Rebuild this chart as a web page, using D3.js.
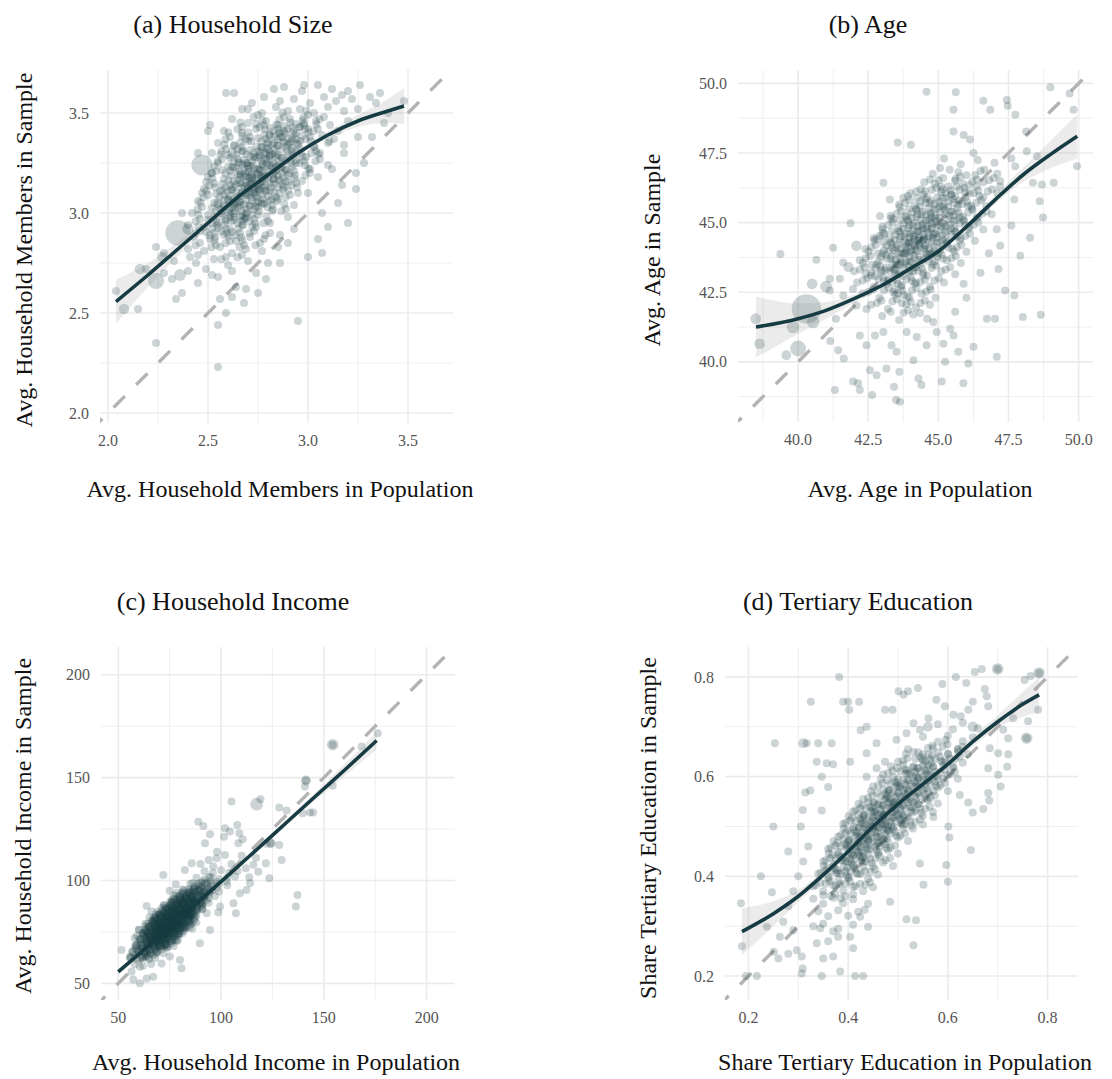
<!DOCTYPE html>
<html>
<head>
<meta charset="utf-8">
<script src="https://cdn.jsdelivr.net/npm/d3@7"></script>
<style>
  body { margin: 0; background: #fff; }
  svg { display: block; font-family: "Liberation Serif", "DejaVu Serif", serif; }
</style>
</head>
<body>
<svg id="chart" width="1112" height="1079"></svg>
<script>
// ---- (a) household size ----
const sizeTicks = [2.0, 2.5, 3.0, 3.5];
const sizeMinor = [2.25, 2.75, 3.25];
const sizeCloud = [
  [2.55,2.44],[2.55,2.23],[2.24,2.35],[2.95,2.46],[2.15,2.52],[2.04,2.61],[2.59,2.50],[2.56,2.57],[2.64,2.63],[2.69,2.62],
  [2.75,2.60],[2.79,2.67],[3.0,2.78],[3.07,2.8],[3.05,2.87],[3.1,2.93],[3.07,3.0],[3.24,3.12],[3.17,3.14],[3.24,3.2],
  [3.28,3.25],[3.32,3.38],[3.26,3.64],[3.2,3.61],[3.48,3.56],[3.31,3.58],[3.34,3.55],[2.98,3.64],[2.83,3.62],[2.59,3.6],
  [2.63,3.6],[2.51,3.44],[2.5,3.41],[2.37,3.0],[2.24,2.83],[2.28,2.8],[2.19,2.72],[2.34,2.57],[2.37,2.6],[2.32,2.67],
  [2.45,2.65],[2.49,2.72],[2.41,2.78],[2.45,3.3],[2.52,3.2],[2.47,3.1],[3.38,3.45],[3.4,3.5],[3.15,3.05],[3.0,3.1],
  [2.9,2.85],[2.93,2.92],[2.68,2.55],[2.62,2.58],[2.55,2.68],[2.86,2.75],[2.72,3.55],[2.67,3.52],[3.36,3.6],[3.2,2.95],
  [3.12,3.22],[3.18,3.3],[3.25,3.38],
  [2.88,3.63],[2.97,3.61],[3.05,3.64],[3.12,3.62],[3.17,3.59],
  [2.78,3.58],[2.86,3.56],[2.93,3.57],[3.01,3.55],[3.08,3.58],[3.14,3.56],[3.22,3.57],
  [2.7,3.52],[2.77,3.5],[2.84,3.53],[2.9,3.51],[2.96,3.52],[3.03,3.5],[3.1,3.53],[3.18,3.51],[3.25,3.52],
  [2.62,3.47],[2.7,3.45],[2.79,3.46],[2.85,3.44],[2.91,3.47],[2.98,3.45],[3.04,3.46],[3.11,3.44],[3.2,3.46],
  [2.58,3.41],[2.67,3.4],[2.74,3.42],[2.81,3.39],[2.88,3.41],[2.94,3.4],[3.0,3.42],[3.07,3.39],[3.15,3.41],
  [2.55,3.35],[2.63,3.34],[2.7,3.36],[2.77,3.33],[2.83,3.35],[2.9,3.34],[2.96,3.36],[3.03,3.33],[3.1,3.35],[3.18,3.34],
  [2.52,3.3],[2.6,3.29],[2.67,3.31],[2.73,3.28],[2.79,3.3],[2.85,3.29],[2.92,3.31],[2.99,3.28],[3.06,3.3],
  [2.55,3.25],[2.62,3.23],[2.69,3.25],[2.75,3.22],[2.81,3.24],[2.87,3.23],[2.94,3.25],[3.01,3.22],[3.1,3.24],
  [2.5,3.18],[2.58,3.17],[2.65,3.19],[2.71,3.16],[2.77,3.18],[2.83,3.17],[2.9,3.19],[2.97,3.16],[3.05,3.18],
  [2.48,3.12],[2.56,3.11],[2.63,3.13],[2.69,3.1],[2.75,3.12],[2.81,3.11],[2.88,3.13],[2.95,3.1],
  [2.45,3.06],[2.53,3.05],[2.6,3.07],[2.66,3.04],[2.72,3.06],[2.78,3.05],[2.85,3.07],[2.93,3.04],
  [2.42,3.0],[2.5,2.99],[2.57,3.01],[2.63,2.98],[2.69,3.0],[2.75,2.99],[2.82,3.01],[2.9,2.98],
  [2.4,2.94],[2.48,2.93],[2.55,2.95],[2.61,2.92],[2.67,2.94],[2.74,2.93],[2.81,2.95],
  [2.43,2.88],[2.51,2.87],[2.58,2.89],[2.64,2.86],[2.71,2.88],[2.78,2.87],[2.86,2.89],
  [2.4,2.82],[2.48,2.81],[2.56,2.83],[2.62,2.8],[2.69,2.82],[2.77,2.81],[2.85,2.83],
  [2.33,2.76],[2.44,2.75],[2.53,2.77],[2.6,2.74],[2.7,2.76],[2.8,2.75],
  [2.28,2.7],[2.4,2.71],[2.52,2.69],[2.62,2.71],[2.74,2.7],
  [2.66,3.15],[2.72,3.2],[2.78,3.27],[2.84,3.21],[2.7,3.09],[2.76,3.15],[2.62,3.03],[2.8,3.32],[2.86,3.38],[2.68,2.97],
  [2.74,3.03],[2.59,2.96],[2.92,3.37],[2.96,3.43]
];
// [x, y, number of regions clustered around that spot]
const sizeDense = [
  [2.74,3.49,2],[2.87,3.48,3],[2.99,3.49,3],[3.07,3.48,2],
  [2.66,3.43,3],[2.77,3.44,5],[2.84,3.42,5],[2.91,3.43,5],[2.97,3.44,5],[3.04,3.42,3],
  [2.6,3.38,3],[2.7,3.38,5],[2.78,3.37,6],[2.86,3.38,6],[2.93,3.37,5],[3.0,3.38,5],[3.12,3.37,2],
  [2.58,3.32,3],[2.66,3.33,5],[2.74,3.31,6],[2.82,3.32,8],[2.88,3.33,6],[2.95,3.32,5],[3.03,3.31,3],
  [2.56,3.27,3],[2.64,3.27,5],[2.71,3.26,8],[2.78,3.27,8],[2.84,3.26,8],[2.9,3.27,6],[2.97,3.26,5],[3.05,3.27,3],
  [2.53,3.21,3],[2.6,3.21,6],[2.67,3.22,8],[2.73,3.2,10],[2.79,3.21,10],[2.86,3.2,8],[2.92,3.21,5],[3.0,3.2,3],
  [2.52,3.15,5],[2.6,3.14,6],[2.68,3.16,10],[2.74,3.14,10],[2.8,3.15,8],[2.86,3.14,6],[2.93,3.15,5],
  [2.49,3.09,3],[2.57,3.09,6],[2.64,3.08,8],[2.7,3.1,10],[2.76,3.09,8],[2.83,3.08,6],[2.9,3.09,3],
  [2.46,3.03,3],[2.55,3.02,6],[2.62,3.03,8],[2.68,3.02,8],[2.74,3.03,6],[2.81,3.04,5],[2.88,3.02,3],
  [2.45,2.97,3],[2.53,2.96,5],[2.6,2.98,6],[2.66,2.96,6],[2.72,2.97,5],[2.79,2.96,3],
  [2.45,2.91,3],[2.52,2.9,5],[2.58,2.92,5],[2.65,2.9,5],[2.72,2.91,3],[2.8,2.9,2],
  [2.45,2.85,2],[2.53,2.84,3],[2.6,2.86,3],[2.67,2.84,3],[2.75,2.85,2],
  [2.45,2.79,1],[2.58,2.78,2],[2.66,2.79,2]
];
// [x, y, population weight] for the bigger regions
const sizeBig = [[2.47,3.24,7],[2.35,2.9,10],[2.24,2.66,4],[2.08,2.52,1.7],[2.16,2.72,1.8],[2.27,2.78,1.6],[2.4,2.92,2],[2.55,3.05,1.6],[2.62,3.3,1.5],[2.36,2.69,2.2]];
const sizeSmoothX = [2.04, 2.2, 2.35, 2.5, 2.65, 2.8, 2.95, 3.1, 3.25, 3.4, 3.48];
const sizeSmoothY = [2.557, 2.69, 2.82, 2.95, 3.08, 3.19, 3.30, 3.39, 3.46, 3.51, 3.535];
const sizeSe = [0.11, 0.06, 0.035, 0.02, 0.015, 0.015, 0.015, 0.018, 0.03, 0.06, 0.09];

// ---- (b) age ----
const ageTicks = [40, 42.5, 45, 47.5, 50];
const ageMinor = [38.75, 41.25, 43.75, 46.25, 48.75];
const ageCloud = [
  [44.58,49.7],[45.62,49.68],[48.99,49.86],[49.68,49.64],[49.82,49.05],[49.94,47.02],[47.44,49.4],[47.47,49.2],[46.6,49.38],[46.85,49.05],
  [47.74,48.87],[45.54,49.05],[45.54,48.27],[45.9,48.15],[43.55,47.88],[44.02,47.8],[43.04,46.43],[41.87,44.98],[40.65,43.67],[39.37,43.87],
  [41.25,44.1],[41.13,42.56],[41.13,42.98],[41.35,41.55],[41.15,40.75],[41.43,40.42],[41.63,40.12],[41.31,38.99],[41.96,39.29],[42.14,39.23],
  [42.2,38.99],[42.64,38.81],[42.56,39.7],[42.8,39.52],[43.15,39.76],[43.42,39.11],[43.49,38.63],[43.63,38.57],[43.61,39.64],[44.11,40.06],
  [44.29,39.4],[44.4,39.17],[45.12,39.29],[45.24,40.0],[45.89,39.23],[46.07,39.94],[47.08,40.18],[45.71,40.36],[46.25,40.54],[46.73,41.55],
  [47.02,41.55],[48.01,41.61],[48.65,41.69],[47.71,42.38],[47.38,42.56],[47.14,43.33],[47.92,43.81],[48.27,44.46],[48.73,45.18],[48.61,45.77],
  [48.69,46.37],[49.11,46.43],[48.37,46.43],[48.51,47.38],[48.15,47.56],[48.13,48.27],[47.74,47.02],[47.2,46.49],[47.71,45.83],[47.08,44.76],
  [47.2,44.17],[46.64,46.9],[46.25,47.5],[46.13,47.98],[45.06,46.96],[44.7,46.55],[44.52,46.13],[43.75,45.89],[43.39,45.12],[43.81,45.24],
  [42.8,44.4],[42.92,45.24],[43.27,45.83],[42.62,43.21],[41.61,43.57],[41.49,42.98],[41.61,42.38],[41.96,42.62],[42.08,42.02],[42.44,41.9],
  [42.2,40.95],[42.44,40.6],[42.74,40.95],[43.04,41.07],[43.33,40.6],[43.51,40.36],[43.87,41.07],[44.23,40.89],[44.58,40.6],[44.94,41.07],
  [45.18,40.65],[45.42,41.19],[45.54,40.95],[44.82,41.43],[45.6,41.8],[46.0,42.3],[45.9,42.8],[46.5,43.2],[46.8,43.9],[47.6,44.9],
  [45.2,47.3],[45.8,47.1],[46.4,47.25],[47.0,47.15],[47.6,47.3],
  [44.8,46.75],[45.4,46.9],[46.0,46.7],[46.5,46.85],[47.1,46.75],
  [44.5,46.45],[45.1,46.3],[45.6,46.5],[46.1,46.35],[46.6,46.45],[47.2,46.3],
  [44.0,46.05],[44.6,45.9],[45.1,46.1],[45.6,45.95],[46.1,46.05],[46.6,45.9],[47.1,46.05],
  [43.6,45.65],[44.2,45.5],[44.7,45.7],[45.2,45.55],[45.7,45.65],[46.2,45.5],[46.7,45.6],
  [43.3,45.25],[43.9,45.1],[44.4,45.3],[44.9,45.15],[45.4,45.25],[45.9,45.1],[46.4,45.2],[46.9,45.3],
  [43.0,44.85],[43.6,44.7],[44.1,44.9],[44.6,44.75],[45.1,44.85],[45.6,44.7],[46.1,44.85],[46.6,44.75],
  [42.7,44.45],[43.3,44.3],[43.8,44.5],[44.3,44.35],[44.8,44.45],[45.3,44.3],[45.8,44.45],[46.3,44.35],
  [42.4,44.05],[43.0,43.9],[43.5,44.1],[44.0,43.95],[44.5,44.05],[45.0,43.9],[45.5,44.05],[46.0,43.95],
  [42.2,43.65],[42.8,43.5],[43.3,43.7],[43.8,43.55],[44.3,43.65],[44.8,43.5],[45.3,43.65],[45.8,43.55],
  [42.0,43.25],[42.6,43.1],[43.1,43.3],[43.6,43.15],[44.1,43.25],[44.6,43.1],[45.1,43.25],[45.6,43.15],
  [42.1,42.85],[42.7,42.7],[43.2,42.9],[43.7,42.75],[44.2,42.85],[44.7,42.7],[45.2,42.85],
  [42.3,42.45],[42.9,42.3],[43.4,42.5],[43.9,42.35],[44.4,42.45],[44.9,42.3],
  [42.6,42.05],[43.2,41.9],[43.7,42.1],[44.2,41.95],[44.7,42.05],
  [43.0,41.65],[43.6,41.5],[44.1,41.7],[44.6,41.55],
  [44.3,44.2],[44.0,44.6],[44.6,43.85],[43.8,43.9],[44.9,44.6],[44.2,43.4],[43.5,43.3],[45.2,44.95],[44.5,44.45],[43.9,44.25],
  [44.7,45.0],[45.5,45.4]
];
const ageDense = [
  [45.1,46.6,2],[45.7,46.65,3],[46.3,46.55,3],[46.9,46.6,2],
  [44.3,46.2,2],[44.85,46.25,3],[45.35,46.15,5],[45.85,46.25,5],[46.35,46.15,3],[46.85,46.2,2],
  [43.9,45.8,3],[44.45,45.85,5],[44.95,45.75,6],[45.45,45.85,5],[45.95,45.75,5],[46.45,45.8,3],
  [43.6,45.4,3],[44.15,45.45,6],[44.65,45.35,6],[45.15,45.45,6],[45.65,45.35,5],[46.15,45.45,3],[46.65,45.4,2],
  [43.3,45.0,3],[43.85,45.05,6],[44.35,44.95,8],[44.85,45.05,8],[45.35,44.95,6],[45.85,45.05,5],[46.35,45.0,3],
  [43.0,44.6,3],[43.55,44.65,6],[44.05,44.55,9],[44.55,44.65,9],[45.05,44.55,6],[45.55,44.65,5],[46.05,44.6,3],
  [42.7,44.2,3],[43.25,44.25,6],[43.75,44.15,8],[44.25,44.25,9],[44.75,44.15,8],[45.25,44.25,5],[45.75,44.2,3],
  [42.5,43.8,3],[43.05,43.85,6],[43.55,43.75,8],[44.05,43.85,8],[44.55,43.75,6],[45.05,43.85,5],[45.55,43.8,3],
  [42.3,43.4,3],[42.85,43.45,5],[43.35,43.35,6],[43.85,43.45,6],[44.35,43.35,5],[44.85,43.45,3],[45.35,43.4,2],
  [42.4,43.0,3],[42.95,43.05,5],[43.45,42.95,5],[43.95,43.05,5],[44.45,42.95,3],[44.95,43.0,2],
  [42.6,42.6,2],[43.15,42.65,3],[43.65,42.55,5],[44.15,42.65,3],[44.65,42.6,2],
  [42.9,42.2,2],[43.45,42.25,3],[43.95,42.15,3],[44.45,42.2,2],
  [43.3,41.8,1],[43.85,41.85,2],[44.35,41.75,1]
];
const ageBig = [[40.3,41.9,13.6],[40.0,40.48,3.9],[39.82,41.25,2.5],[38.49,41.55,1.8],[38.63,40.65,1.8],[40.5,42.8,1.8],[40.54,41.43,2.5],[39.58,40.24,1.5],[42.08,44.17,1.7],[43.04,44.58,1.7],[41.0,42.7,2.2],[41.8,43.4,1.6]];
const ageSmoothX = [38.5, 40, 41, 42, 43, 44, 45, 46, 47, 48, 49, 49.95];
const ageSmoothY = [41.25, 41.55, 41.85, 42.27, 42.75, 43.35, 43.97, 44.85, 45.8, 46.7, 47.45, 48.1];
const ageSe = [1.1, 0.55, 0.3, 0.15, 0.1, 0.1, 0.1, 0.1, 0.15, 0.25, 0.5, 0.8];

// ---- (c) household income ----
const incomeTicks = [50, 100, 150, 200];
const incomeMinor = [75, 125, 175];
const incomeCloud = [
  [176.2,171.6],[154.3,166.0],[168.4,165.1],[154.3,146.0],[141.3,148.6],[140.8,145.7],[143.2,133.0],[144.8,133.0],[139.7,132.7],[131.9,134.0],
  [128.3,135.5],[119.2,139.5],[105.1,138.4],[88.9,128.6],[91.4,126.5],[94.6,122.5],[92.2,118.1],[101.9,125.4],[107.9,127.0],[101.4,121.3],
  [104.3,123.8],[108.9,123.0],[108.4,118.1],[110.5,120.0],[122.2,117.8],[124.2,118.1],[128.3,117.3],[129.5,110.0],[121.8,108.4],[115.7,107.6],
  [118.1,104.3],[123.5,101.1],[113.7,101.6],[137.2,93.0],[136.4,87.3],[107.2,84.1],[98.6,84.4],[93.0,84.1],[101.9,112.4],[97.8,110.8],
  [96.2,106.8],[85.7,108.4],[82.4,105.1],[71.9,102.7],[85.7,79.2],[80.8,57.3],[80.0,61.4],[63.8,87.6],[66.2,84.9],[51.6,66.2],
  [55.7,63.0],[57.3,51.9],[60.5,50.0],[63.8,52.4],[67.0,53.2],[56.5,55.7],[60.5,58.1],[71.1,59.7],[75.1,63.0],[89.7,69.5],
  [94.6,75.9],[99.5,87.3],[106.0,88.9],[109.2,93.8],[114.1,98.6],[112.4,95.4],[106.8,101.9],[102.7,99.5],[105,108],[110,112],
  [98,114],[94,110],[112,106],[117,111],[90,108],[78,98],[75,95],[68,82],[60,76],[58,72],
  [92,104.5],[96,103.5],[100,105],[104,103.8],[108,104.6],
  [88,101.3],[92,100.5],[95,101.6],[99,100.7],[103,101.4],
  [85,98.4],[89,97.6],[92,98.6],[95,97.5],[99,98.3],[103,97.7],
  [82,95.3],[86,94.6],[89,95.5],[92,94.7],[95,95.4],[99,94.6],
  [79,92.4],[82,91.6],[85,92.5],[88,91.7],[91,92.3],[94,91.5],[97,92.4],
  [76,89.3],[79,88.6],[82,89.5],[85,88.7],[88,89.4],[91,88.5],[94,89.2],
  [73,86.4],[76,85.6],[79,86.5],[82,85.7],[85,86.3],[88,85.5],[91,86.2],
  [70,83.3],[73,82.6],[76,83.4],[79,82.7],[82,83.5],[85,82.6],[88,83.2],
  [67,80.4],[70,79.6],[73,80.5],[76,79.7],[79,80.3],[82,79.5],[85,80.4],[88,79.6],
  [65,77.3],[68,76.6],[71,77.4],[74,76.7],[77,77.5],[80,76.6],[83,77.3],[86,76.5],
  [63,74.4],[66,73.6],[69,74.5],[72,73.7],[75,74.3],[78,73.5],[81,74.2],
  [61,71.3],[64,70.6],[67,71.4],[70,70.7],[73,71.5],[76,70.6],[79,71.2],
  [59,68.4],[62,67.6],[65,68.5],[68,67.7],[71,68.3],[74,67.5],[77,68.2],
  [57,65.3],[60,64.6],[63,65.4],[66,64.7],[69,65.5],[72,64.6],
  [56,62.4],[59,61.6],[62,62.5],[65,61.7],[68,62.3],
  [58,59.3],[62,58.6],[66,59.4],
  [72,75],[75,78],[78,81],[81,84],[74,72.5],[77,76],[80,79],[70,72],[83,86],[76,81],
  [79,76],[73,69],[86,88],[68,70],[71,73.5],[84,83],[87,90],[90,93]
];
const incomeDense = [
  [90,99.5,2],[94,99.6,3],[97,99.4,2],
  [86,96.5,3],[90,96.6,5],[93,96.4,5],[97,96.5,2],
  [81,93.5,3],[84,93.6,7],[87,93.4,7],[90,93.6,5],[93,93.4,3],
  [77,90.5,3],[80,90.6,8],[83,90.4,11],[86,90.6,11],[89,90.4,7],[92,90.5,3],
  [75,87.5,5],[78,87.6,11],[81,87.4,13],[84,87.6,13],[87,87.4,9],[90,87.5,3],
  [71,84.5,4],[74,84.6,11],[77,84.4,15],[80,84.6,15],[83,84.4,11],[86,84.5,5],
  [68,81.5,5],[71,81.6,11],[74,81.4,15],[77,81.6,15],[80,81.4,15],[83,81.6,9],[86,81.5,3],
  [66,78.5,5],[69,78.6,11],[72,78.4,15],[75,78.6,15],[78,78.4,13],[81,78.6,9],[84,78.5,3],
  [63,75.5,5],[66,75.6,11],[69,75.4,15],[72,75.6,15],[75,75.4,13],[78,75.6,7],[81,75.5,3],
  [62,72.5,5],[65,72.6,9],[68,72.4,13],[71,72.6,13],[74,72.4,9],[77,72.6,5],
  [60,69.5,3],[63,69.6,7],[66,69.4,9],[69,69.6,9],[72,69.4,5],[75,69.5,2],
  [58,66.5,3],[61,66.6,5],[64,66.4,7],[67,66.6,5],[70,66.4,3],
  [57,63.5,2],[60,63.6,3],[63,63.4,3],[66,63.6,2]
];
const incomeBig = [[117.3,137.1,2.5],[154.3,166.0,2.1],[141.3,148.6,1.6],[124.2,118.1,1.5]];
const incomeSmoothX = [50, 60, 70, 80, 90, 100, 110, 120, 130, 140, 150, 160, 175.7];
const incomeSmoothY = [55.6, 64.2, 73.0, 81.8, 90.5, 99.4, 108.4, 117.4, 126.5, 135.6, 144.6, 153.6, 168.0];
const incomeSe = [1.5, 1.0, 0.7, 0.6, 0.6, 0.7, 0.8, 1.0, 1.2, 1.6, 2.2, 2.9, 4.2];

// ---- (d) tertiary education ----
const eduTicks = [0.2, 0.4, 0.6, 0.8];
const eduMinor = [0.3, 0.5, 0.7];
const eduCloud = [
  [0.382,0.8],[0.325,0.75],[0.39,0.75],[0.40,0.75],[0.422,0.75],[0.402,0.734],[0.253,0.667],[0.317,0.667],[0.34,0.667],[0.367,0.667],
  [0.437,0.70],[0.425,0.693],[0.337,0.63],[0.357,0.627],[0.37,0.625],[0.404,0.63],[0.347,0.6],[0.314,0.568],[0.324,0.572],[0.36,0.579],
  [0.309,0.533],[0.347,0.532],[0.25,0.5],[0.305,0.5],[0.28,0.45],[0.225,0.4],[0.247,0.368],[0.185,0.346],[0.187,0.26],[0.195,0.2],
  [0.217,0.2],[0.251,0.249],[0.26,0.235],[0.28,0.245],[0.297,0.252],[0.307,0.239],[0.309,0.215],[0.307,0.205],[0.35,0.235],[0.37,0.239],
  [0.347,0.2],[0.384,0.209],[0.414,0.2],[0.43,0.2],[0.41,0.256],[0.404,0.279],[0.38,0.279],[0.37,0.29],[0.337,0.266],[0.344,0.296],
  [0.29,0.292],[0.263,0.279],[0.237,0.299],[0.27,0.309],[0.44,0.299],[0.424,0.319],[0.433,0.333],[0.484,0.349],[0.517,0.314],[0.536,0.312],
  [0.531,0.262],[0.551,0.383],[0.544,0.426],[0.597,0.423],[0.6,0.389],[0.646,0.453],[0.603,0.478],[0.601,0.5],[0.571,0.519],[0.65,0.528],
  [0.671,0.535],[0.683,0.552],[0.681,0.567],[0.641,0.548],[0.624,0.563],[0.706,0.58],[0.701,0.604],[0.721,0.645],[0.719,0.62],[0.681,0.617],
  [0.684,0.657],[0.701,0.647],[0.711,0.694],[0.721,0.677],[0.758,0.677],[0.761,0.711],[0.731,0.717],[0.781,0.734],[0.783,0.808],[0.766,0.802],
  [0.754,0.794],[0.7,0.816],[0.668,0.816],[0.654,0.81],[0.616,0.8],[0.637,0.788],[0.589,0.786],[0.54,0.778],[0.511,0.764],[0.501,0.771],
  [0.52,0.771],[0.489,0.734],[0.474,0.734],[0.577,0.754],[0.594,0.741],[0.611,0.724],[0.626,0.721],[0.641,0.734],[0.674,0.776],[0.678,0.761],
  [0.681,0.741],[0.65,0.75],[0.561,0.717],[0.531,0.707],[0.544,0.694],[0.517,0.687],[0.497,0.674],[0.457,0.667],[0.474,0.63],[0.457,0.617],
  [0.437,0.6],[0.531,0.65],[0.437,0.647],[0.3,0.4],[0.31,0.43],[0.29,0.37],[0.32,0.46],[0.28,0.34],[0.33,0.3],[0.36,0.27],
  [0.58,0.705],[0.61,0.695],[0.63,0.708],[0.66,0.697],
  [0.55,0.68],[0.58,0.67],[0.6,0.682],[0.63,0.671],[0.65,0.679],
  [0.52,0.655],[0.55,0.645],[0.57,0.657],[0.6,0.646],[0.62,0.654],[0.64,0.645],
  [0.5,0.63],[0.53,0.62],[0.55,0.632],[0.57,0.621],[0.59,0.629],[0.61,0.62],[0.63,0.628],
  [0.47,0.605],[0.5,0.595],[0.52,0.607],[0.54,0.596],[0.56,0.604],[0.58,0.595],[0.6,0.603],[0.62,0.596],
  [0.45,0.58],[0.48,0.57],[0.5,0.582],[0.52,0.571],[0.54,0.579],[0.56,0.57],[0.58,0.578],[0.6,0.571],
  [0.43,0.555],[0.46,0.545],[0.48,0.557],[0.5,0.546],[0.52,0.554],[0.54,0.545],[0.56,0.553],[0.58,0.546],
  [0.41,0.53],[0.43,0.52],[0.45,0.532],[0.47,0.521],[0.49,0.529],[0.51,0.52],[0.53,0.528],[0.55,0.521],[0.57,0.529],
  [0.39,0.505],[0.41,0.495],[0.43,0.507],[0.45,0.496],[0.47,0.504],[0.49,0.495],[0.51,0.503],[0.53,0.496],[0.55,0.504],
  [0.38,0.48],[0.4,0.47],[0.42,0.482],[0.44,0.471],[0.46,0.479],[0.48,0.47],[0.5,0.478],[0.52,0.471],
  [0.36,0.455],[0.38,0.445],[0.4,0.457],[0.42,0.446],[0.44,0.454],[0.46,0.445],[0.48,0.453],[0.5,0.446],
  [0.35,0.43],[0.37,0.42],[0.39,0.432],[0.41,0.421],[0.43,0.429],[0.45,0.42],[0.47,0.428],[0.49,0.421],
  [0.34,0.405],[0.36,0.395],[0.38,0.407],[0.4,0.396],[0.42,0.404],[0.44,0.395],[0.46,0.403],
  [0.33,0.38],[0.35,0.37],[0.37,0.382],[0.39,0.371],[0.41,0.379],[0.43,0.37],[0.45,0.378],
  [0.33,0.355],[0.35,0.345],[0.37,0.357],[0.39,0.346],[0.41,0.354],[0.44,0.345],
  [0.34,0.33],[0.36,0.32],[0.38,0.332],[0.4,0.321],[0.42,0.329],
  [0.35,0.305],[0.38,0.295],[0.41,0.303],
  [0.45,0.5],[0.47,0.52],[0.44,0.48],[0.49,0.54],[0.42,0.46],[0.51,0.56],[0.46,0.51],[0.43,0.44],[0.53,0.58],[0.48,0.5],
  [0.4,0.43],[0.55,0.6]
];
const eduDense = [
  [0.565,0.662,2],[0.595,0.665,3],[0.625,0.66,2],
  [0.515,0.637,3],[0.54,0.64,3],[0.56,0.635,5],[0.58,0.64,5],[0.6,0.636,3],[0.62,0.64,3],
  [0.485,0.612,3],[0.51,0.615,5],[0.53,0.61,6],[0.55,0.615,6],[0.57,0.61,5],[0.59,0.614,3],[0.61,0.61,3],
  [0.465,0.587,3],[0.49,0.59,5],[0.51,0.585,6],[0.53,0.59,6],[0.55,0.585,6],[0.57,0.59,5],[0.59,0.587,3],
  [0.445,0.562,3],[0.47,0.565,6],[0.49,0.56,8],[0.51,0.565,8],[0.53,0.56,6],[0.55,0.565,5],[0.57,0.562,3],
  [0.42,0.537,3],[0.44,0.54,6],[0.46,0.535,8],[0.48,0.54,9],[0.5,0.535,8],[0.52,0.54,6],[0.54,0.536,5],[0.56,0.54,2],
  [0.4,0.512,3],[0.42,0.515,6],[0.44,0.51,8],[0.46,0.515,9],[0.48,0.51,8],[0.5,0.515,6],[0.52,0.51,5],[0.54,0.514,2],
  [0.39,0.487,3],[0.41,0.49,6],[0.43,0.485,8],[0.45,0.49,8],[0.47,0.485,8],[0.49,0.49,5],[0.51,0.486,3],
  [0.37,0.462,3],[0.39,0.465,6],[0.41,0.46,8],[0.43,0.465,8],[0.45,0.46,6],[0.47,0.465,5],[0.49,0.462,2],
  [0.36,0.437,3],[0.38,0.44,5],[0.4,0.435,6],[0.42,0.44,6],[0.44,0.435,5],[0.46,0.44,3],[0.48,0.437,2],
  [0.35,0.412,3],[0.37,0.415,5],[0.39,0.41,5],[0.41,0.415,5],[0.43,0.41,3],[0.45,0.414,2],
  [0.34,0.387,2],[0.36,0.39,3],[0.38,0.385,3],[0.4,0.39,3],[0.42,0.385,2],[0.44,0.388,2],
  [0.35,0.362,1],[0.37,0.365,2],[0.39,0.36,2],[0.41,0.364,1]
];
const eduBig = [[0.783,0.808,2.1],[0.7,0.816,2.1],[0.758,0.677,2.1],[0.65,0.7,1.7],[0.31,0.667,1.6],[0.56,0.7,1.5]];
const eduSmoothX = [0.187, 0.25, 0.3, 0.35, 0.4, 0.45, 0.5, 0.55, 0.6, 0.65, 0.7, 0.75, 0.783];
const eduSmoothY = [0.289, 0.325, 0.36, 0.403, 0.45, 0.50, 0.545, 0.585, 0.625, 0.67, 0.71, 0.745, 0.764];
const eduSe = [0.047, 0.025, 0.012, 0.009, 0.008, 0.008, 0.008, 0.008, 0.008, 0.01, 0.013, 0.025, 0.035];

const panels = [
  {id: 'a', title: '(a) Household Size', xLabel: 'Avg. Household Members in Population', yLabel: 'Avg. Household Members in Sample',
   cloud: sizeCloud, dense: sizeDense, big: sizeBig, sx: sizeSmoothX, sy: sizeSmoothY, se: sizeSe, ticks: sizeTicks, minor: sizeMinor, fmt: '.1f',
   left: 100, right: 453, top: 70, bottom: 423, xDomain: [1.96, 3.725], yDomain: [1.95, 3.715],
   titleX: 233, titleY: 33, xLabX: 280, xLabY: 497, yLabX: 32, yLabY: 250},
  {id: 'b', title: '(b) Age', xLabel: 'Avg. Age in Population', yLabel: 'Avg. Age in Sample',
   cloud: ageCloud, dense: ageDense, big: ageBig, sx: ageSmoothX, sy: ageSmoothY, se: ageSe, ticks: ageTicks, minor: ageMinor, fmt: '.1f',
   left: 738, right: 1093, top: 70, bottom: 422, xDomain: [37.86, 50.51], yDomain: [37.84, 50.48],
   titleX: 868, titleY: 33, xLabX: 920, xLabY: 497, yLabX: 660, yLabY: 250},
  {id: 'c', title: '(c) Household Income', xLabel: 'Avg. Household Income in Population', yLabel: 'Avg. Household Income in Sample',
   cloud: incomeCloud, dense: incomeDense, big: incomeBig, sx: incomeSmoothX, sy: incomeSmoothY, se: incomeSe, ticks: incomeTicks, minor: incomeMinor, fmt: 'd',
   left: 101, right: 455, top: 647, bottom: 1000, xDomain: [41.6, 213.8], yDomain: [41.9, 213.5],
   titleX: 233, titleY: 610, xLabX: 276, xLabY: 1070, yLabX: 31, yLabY: 826},
  {id: 'd', title: '(d) Tertiary Education', xLabel: 'Share Tertiary Education in Population', yLabel: 'Share Tertiary Education in Sample',
   cloud: eduCloud, dense: eduDense, big: eduBig, sx: eduSmoothX, sy: eduSmoothY, se: eduSe, ticks: eduTicks, minor: eduMinor, fmt: '.1f',
   left: 725, right: 1078, top: 647, bottom: 1000, xDomain: [0.153, 0.861], yDomain: [0.152, 0.86],
   titleX: 858, titleY: 610, xLabX: 905, xLabY: 1070, yLabX: 656, yLabY: 828}
];

const ink = '#163b42';
const alpha = 0.22;
const svg = d3.select('#chart');
const defs = svg.append('defs');

// a cluster of n regions is laid out as a small sunflower around its spot
function cluster([cx, cy, n]) {
  return d3.range(n).map(k => ({
    x: cx, y: cy, w: 1,
    dx: n > 1 ? 2.8 * Math.sqrt(k + 0.5) * Math.cos(k * 2.39996) : 0,
    dy: n > 1 ? 2.8 * Math.sqrt(k + 0.5) * Math.sin(k * 2.39996) : 0
  }));
}

function drawPanel(p) {
  const x = d3.scaleLinear().domain(p.xDomain).range([p.left, p.right]);
  const y = d3.scaleLinear().domain(p.yDomain).range([p.bottom, p.top]);
  const r = d3.scaleSqrt().domain([0, 1]).range([0, 4]);
  const g = svg.append('g').attr('class', 'panel-' + p.id);

  defs.append('clipPath').attr('id', 'clip-' + p.id)
    .append('rect')
      .attr('x', p.left).attr('y', p.top)
      .attr('width', p.right - p.left).attr('height', p.bottom - p.top);

  // grid, minor first
  const grid = g.append('g');
  grid.selectAll('.vmin').data(p.minor).join('line')
    .attr('x1', d => x(d)).attr('x2', d => x(d)).attr('y1', p.top).attr('y2', p.bottom)
    .attr('stroke', '#efefef').attr('stroke-width', 1);
  grid.selectAll('.hmin').data(p.minor).join('line')
    .attr('y1', d => y(d)).attr('y2', d => y(d)).attr('x1', p.left).attr('x2', p.right)
    .attr('stroke', '#efefef').attr('stroke-width', 1);
  grid.selectAll('.vmaj').data(p.ticks).join('line')
    .attr('x1', d => x(d)).attr('x2', d => x(d)).attr('y1', p.top).attr('y2', p.bottom)
    .attr('stroke', '#ebebeb').attr('stroke-width', 1.6);
  grid.selectAll('.hmaj').data(p.ticks).join('line')
    .attr('y1', d => y(d)).attr('y2', d => y(d)).attr('x1', p.left).attr('x2', p.right)
    .attr('stroke', '#ebebeb').attr('stroke-width', 1.6);

  // tick labels
  const fmt = d3.format(p.fmt);
  g.append('g').selectAll('text').data(p.ticks).join('text')
    .attr('x', d => x(d)).attr('y', p.bottom + 23)
    .attr('text-anchor', 'middle').attr('font-size', 16).attr('fill', '#555')
    .text(fmt);
  g.append('g').selectAll('text').data(p.ticks).join('text')
    .attr('x', p.left - 11).attr('y', d => y(d)).attr('dy', '0.35em')
    .attr('text-anchor', 'end').attr('font-size', 16).attr('fill', '#555')
    .text(fmt);

  const marks = g.append('g').attr('clip-path', `url(#clip-${p.id})`);

  // 45 degree reference, under the points
  const lo = Math.min(p.xDomain[0], p.yDomain[0]) - 0.02 * (p.xDomain[1] - p.xDomain[0]);
  const hi = Math.max(p.xDomain[1], p.yDomain[1]);
  marks.append('line')
    .attr('x1', x(lo)).attr('y1', y(lo)).attr('x2', x(hi)).attr('y2', y(hi))
    .attr('stroke', '#b3b3b3').attr('stroke-width', 3.4).attr('stroke-dasharray', '16,16');

  // points: single regions, clustered regions, big regions
  const pts = p.cloud.map(([a, b]) => ({x: a, y: b, w: 1, dx: 0, dy: 0}))
    .concat(p.dense.flatMap(cluster))
    .concat(p.big.map(([a, b, w]) => ({x: a, y: b, w, dx: 0, dy: 0})));
  marks.append('g').selectAll('circle').data(pts).join('circle')
    .attr('cx', d => x(d.x) + d.dx).attr('cy', d => y(d.y) + d.dy).attr('r', d => r(d.w))
    .attr('fill', ink).attr('fill-opacity', alpha);

  // smoother with band
  const sm = p.sx.map((v, i) => ({x: v, y: p.sy[i], se: p.se[i]}));
  marks.append('path').datum(sm)
    .attr('d', d3.area().curve(d3.curveMonotoneX)
      .x(d => x(d.x)).y0(d => y(d.y - d.se)).y1(d => y(d.y + d.se)))
    .attr('fill', '#999').attr('fill-opacity', 0.2);
  marks.append('path').datum(sm)
    .attr('d', d3.line().curve(d3.curveMonotoneX).x(d => x(d.x)).y(d => y(d.y)))
    .attr('fill', 'none').attr('stroke', ink).attr('stroke-width', 3.6);

  // titles
  g.append('text').attr('x', p.titleX).attr('y', p.titleY)
    .attr('text-anchor', 'middle').attr('font-size', 26).attr('fill', '#111')
    .text(p.title);
  g.append('text').attr('x', p.xLabX).attr('y', p.xLabY)
    .attr('text-anchor', 'middle').attr('font-size', 24).attr('fill', '#111')
    .text(p.xLabel);
  g.append('text')
    .attr('transform', `translate(${p.yLabX},${p.yLabY}) rotate(-90)`)
    .attr('text-anchor', 'middle').attr('font-size', 24).attr('fill', '#111')
    .text(p.yLabel);
}

panels.forEach(drawPanel);
</script>
</body>
</html>
